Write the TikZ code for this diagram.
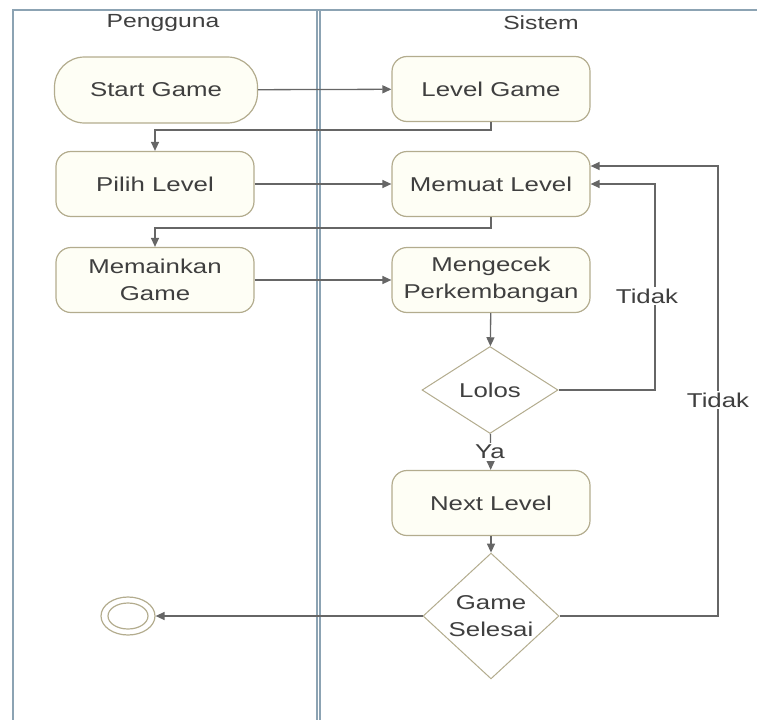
\documentclass[tikz,border=0pt]{standalone}
\usepackage{fontspec}
\setmainfont{Liberation Sans}[FakeStretch=1.29]
\newfontfamily\hdrfont{Liberation Sans}[FakeStretch=1.3]
\usetikzlibrary{arrows.meta,shapes.geometric,shapes.misc}
\definecolor{lane}{HTML}{8CA3B3}
\definecolor{wire}{HTML}{666666}
\definecolor{nfill}{HTML}{FEFEF5}
\definecolor{nborder}{HTML}{B3AC8E}
\definecolor{txt}{HTML}{3F3F3F}
\begin{document}
\begin{tikzpicture}[x=1pt,y=-1pt,
  every node/.style={text=txt,font=\fontsize{20}{27}\selectfont},
  act/.style={draw=nborder,fill=nfill,line width=1.2pt,rounded corners=15pt,
    minimum width=198pt,minimum height=65pt,align=center,inner sep=0pt},
  startact/.style={act,rounded corners=30pt,minimum width=203pt,minimum height=66pt},
  dec/.style={draw=nborder,fill=white,line width=1pt,diamond,minimum width=136pt,
    minimum height=87pt,inner sep=0pt,align=center},
  wireline/.style={draw=wire,line width=1.3pt,-{Triangle[length=9pt,width=8pt]}},
  lbl/.style={fill=white,inner sep=2pt},
  hdr/.style={font=\hdrfont\fontsize{19}{22}\selectfont}
]
\useasboundingbox (0,0) rectangle (757,720);
% swimlanes
\draw[lane,line width=1.2pt] (757,10) -- (13,10) -- (13,720);
\draw[lane,line width=1.2pt] (317,10) -- (317,720);
\draw[lane,line width=1.2pt] (320,10) -- (320,720);
\node[hdr] (hp) at (163,23) {Pengguna};
\node[hdr] (hs) at (541,23) {Sistem};
% nodes
\node[startact] (start) at (156,90) {Start Game};
\node[act] (lvl) at (491,89) {Level Game};
\node[act] (pilih) at (155,184) {Pilih Level};
\node[act] (muat) at (491,184) {Memuat Level};
\node[act] (main) at (155,280) {Memainkan\\Game};
\node[act] (cek) at (491,280) {Mengecek\\Perkembangan};
\node[dec] (lolos) at (490,390) {Lolos};
\node[act] (next) at (491,503) {Next Level};
\node[dec] (selesai) at (491,616) {Game\\Selesai};
\node[ellipse,draw=nborder,line width=1.2pt,minimum width=54pt,minimum height=38pt,inner sep=0pt] (endo) at (128,616) {};
\node[ellipse,draw=nborder,line width=1.2pt,minimum width=40pt,minimum height=26pt,inner sep=0pt] (endi) at (128,616) {};
\coordinate (m1) at (lvl.south |- 0,130);
\coordinate (m2) at (muat.south |- 0,228);
\coordinate (t1) at (655,0);
\coordinate (t2) at (718,0);
\coordinate (mr1) at ([yshift=18pt]muat.east);
% connectors
\draw[wireline] (start) -- (lvl);
\draw[wireline] (lvl.south) -- (m1) -| (pilih.north);
\draw[wireline] (pilih) -- (muat);
\draw[wireline] (muat.south) -- (m2) -| (main.north);
\draw[wireline] (main) -- (cek);
\draw[wireline] (cek) -- (lolos);
\draw[wireline] (lolos.east) -| (t1 |- muat.east) -- (muat.east);
\draw[wireline] (lolos) -- (next);
\draw[wireline] (next) -- (selesai);
\draw[wireline] (selesai.east) -| (t2 |- mr1) -- (mr1);
\draw[wireline] (selesai.west) -- (endo.east);
% labels
\node[lbl] (ltid1) at (647,296) {Tidak};
\node[lbl] (ltid2) at (718,400) {Tidak};
\node[lbl] (lya) at (490,452) {Ya};
\end{tikzpicture}
\end{document}
